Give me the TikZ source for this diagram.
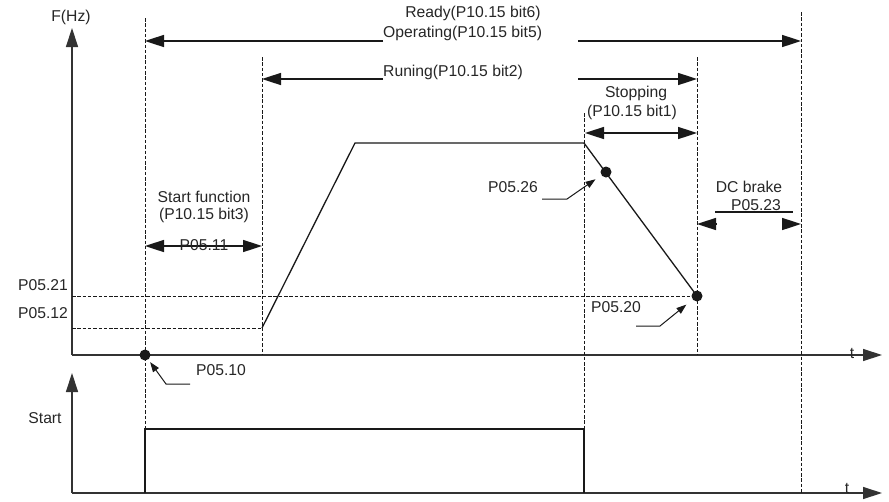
\documentclass[tikz,border=0pt]{standalone}
\usepackage{fontspec}
\setmainfont{Liberation Sans}
\usetikzlibrary{arrows.meta,calc}

\begin{document}
\begin{tikzpicture}[x=1pt,y=-1pt,
  lbl/.style={font=\fontsize{15.7}{18}\selectfont,text=black!85,inner sep=0pt},
  axis/.style={-{Triangle[length=19pt,width=12pt]},line width=1.3pt,black!80},
  guide/.style={dash pattern=on 3.5pt off 1.8pt,line width=1pt,black!90},
  span/.style={-{Triangle[length=19pt,width=12pt]},line width=1.6pt,black!90},
  both/.style={{Triangle[length=19pt,width=12pt]}-{Triangle[length=19pt,width=12pt]},line width=1.6pt,black!90},
  lead/.style={-{Triangle[length=10pt,width=7pt]},line width=1pt,black!90},
  dot/.style={circle,fill=black!90,inner sep=0pt,minimum size=11pt},
  curve/.style={line width=1.3pt,black!90}]
\useasboundingbox (0,0) rectangle (889,501);
% axes
\coordinate (o1) at (72,355); \coordinate (fz) at (72,28); \coordinate (t1) at (882,355);
\coordinate (o2) at (72,493); \coordinate (st) at (72,373); \coordinate (t2) at (882,493);
\draw[axis] (o1) -- (fz);
\draw[axis] (o1) -- (t1);
\draw[axis] (o2) -- (st);
\draw[axis] (o2) -- (t2);
\node[lbl] (fhz) at (71,17) {F(Hz)};
\node[lbl] (ta) at (852,353) {t};
\node[lbl] (tb) at (847,488) {t};
\node[lbl] (start) at (45,418) {Start};
% guides
\draw[guide] (145,18) -- (145,493);
\draw[guide] (262,57) -- (262,355);
\draw[guide] (584,113) -- (584,493);
\draw[guide] (697,57) -- (697,355);
\draw[guide] (801,12) -- (801,493);
\draw[guide] (72,296) -- (697,296);
\draw[guide] (72,328) -- (262,328);
\node[lbl] (p21) at (43,285) {P05.21};
\node[lbl] (p12) at (43,313) {P05.12};
% status spans
\node[lbl] (ready) at (473,13) {Ready(P10.15 bit6)};
\node[lbl,anchor=west] (oper) at (383,33) {Operating(P10.15 bit5)};
\draw[span] (383,41) -- (145,41);
\draw[span] (578,41) -- (801,41);
\node[lbl,anchor=west] (run) at (383,72) {Runing(P10.15 bit2)};
\draw[span] (383,79) -- (262,79);
\draw[span] (578,79) -- (697,79);
\node[lbl] (stop) at (636,93) {Stopping};
\node[lbl] (stopbit) at (632,112) {(P10.15 bit1)};
\draw[both] (585,133) -- (697,133);
\node[lbl] (sfun) at (204,197) {Start function};
\node[lbl] (sfunbit) at (204,215) {(P10.15 bit3)};
\draw[both] (145,246) -- (262,246);
\node[lbl] (p11) at (204,245) {P05.11};
\node[lbl] (dcb) at (749,187) {DC brake};
\node[lbl] (p23) at (756,205) {P05.23};
\draw[line width=1.6pt,black!90] (715,212) -- (793,212);
\draw[span] (717,224) -- (697,224);
\draw[span] (782,224) -- (801,224);
% frequency curve
\draw[curve] (262,328) -- (355,143) -- (584,143) -- (697,296);
\node[dot] (d26) at (606,172) {};
\node[dot] (d20) at (697,296) {};
\node[dot] (d10) at (145,355) {};
% leaders
\node[lbl] (p26) at (513,187) {P05.26};
\draw[lead,shorten >=7pt] (542,199) -- (567,199) -- (d26);
\node[lbl] (p20) at (616,307) {P05.20};
\draw[lead,shorten >=8pt] (636,326) -- (660,326) -- (d20);
\node[lbl] (p10) at (221,370) {P05.10};
\draw[lead,shorten >=3pt] (190,384) -- (166,384) -- (d10);
% start command
\draw[curve] (145,493) -- (145,429) -- (584,429) -- (584,493);
\end{tikzpicture}
\end{document}
